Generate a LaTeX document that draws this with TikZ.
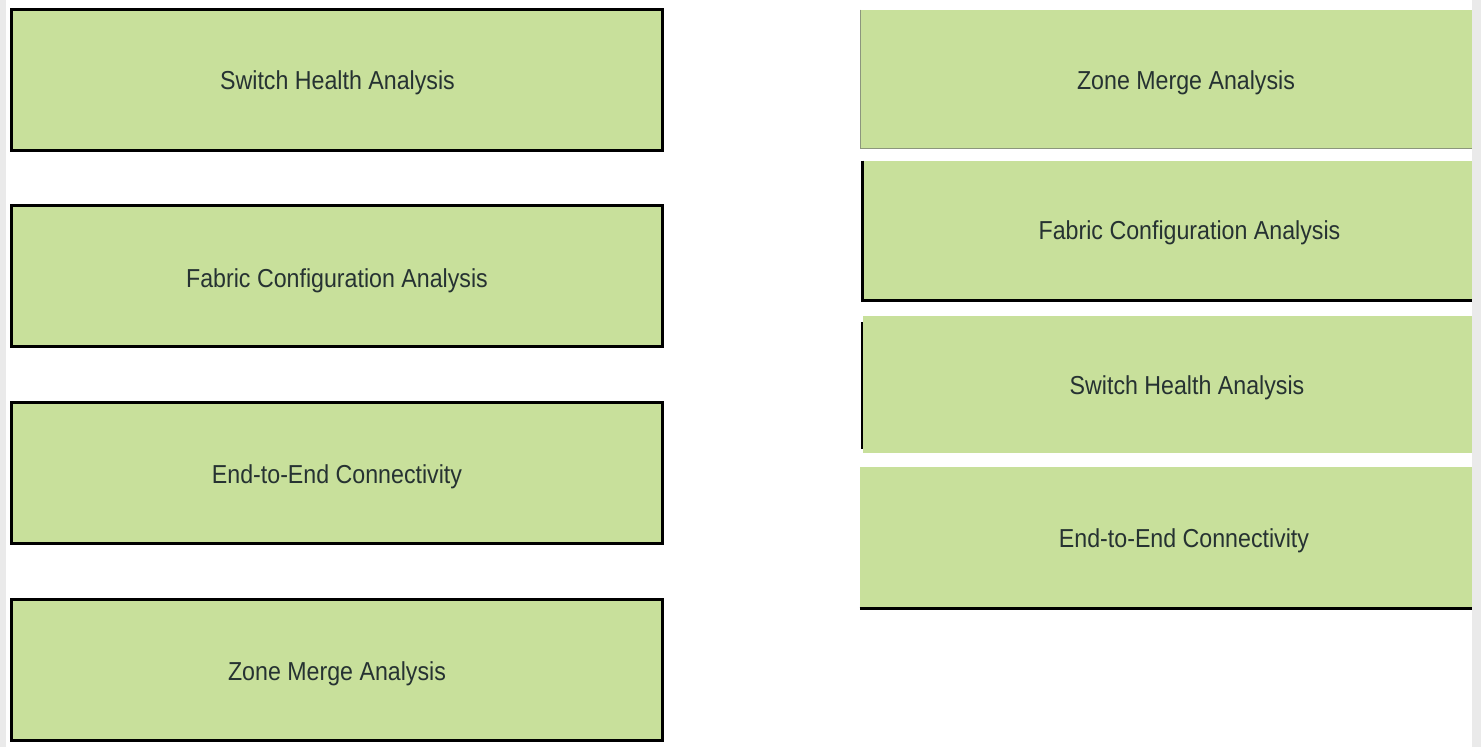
\documentclass[tikz,border=0pt]{standalone}
\usepackage{fontspec}
\setmainfont{Liberation Sans}
\definecolor{boxgreen}{RGB}{200,224,155}
\definecolor{boxtext}{RGB}{38,50,50}
\definecolor{stripgray}{RGB}{234,234,234}
\definecolor{linegray}{RGB}{140,150,125}

\begin{document}
\begin{tikzpicture}[x=0.75pt,y=-0.75pt,
  lbox/.style={draw=black,line width=2.25pt,fill=boxgreen,minimum width=488.25pt,
    minimum height=105.75pt,inner sep=0pt},
  rbox/.style={fill=boxgreen,minimum width=458.25pt,inner sep=0pt},
  lab/.style={text=boxtext,inner sep=0pt,text height=12.4pt,text depth=0pt,
    yscale=1.12,transform shape,font=\fontsize{17.4}{20}\selectfont}]
 \useasboundingbox (0,0) rectangle (1481,747);
 \fill[stripgray] (0,0) rectangle (6,747);
 \fill[stripgray] (1472,0) rectangle (1481,747);
 % left column
 \draw (337,80) node[lbox] (lswitch) {};
 \draw (337,276) node[lbox] (lfabric) {};
 \draw (337,473) node[lbox] (lend) {};
 \draw (337,670) node[lbox] (lzone) {};
 \draw (337.5,80) node[lab] (tlswitch) {Switch Health Analysis};
 \draw (337,278) node[lab] (tlfabric) {Fabric Configuration Analysis};
 \draw (337,474) node[lab] (tlend) {End-to-End Connectivity};
 \draw (337,671) node[lab] (tlzone) {Zone Merge Analysis};
 % right column
 \draw (1166.5,79) node[rbox,minimum height=103.5pt] (rzone) {};
 \draw (1167,230.5) node[rbox,minimum height=104.25pt,minimum width=456.75pt] (rfabric) {};
 \draw (1167,384.5) node[rbox,minimum height=102.75pt,minimum width=456.75pt] (rswitch) {};
 \draw (1166,537.5) node[rbox,minimum height=105.75pt,minimum width=459pt] (rend) {};
 \draw (1186,80) node[lab] (trzone) {Zone Merge Analysis};
 \draw (1189.5,230) node[lab] (trfabric) {Fabric Configuration Analysis};
 \draw (1187,385) node[lab] (trswitch) {Switch Health Analysis};
 \draw (1184,538) node[lab] (trend) {End-to-End Connectivity};
 \draw[linegray,line width=0.75pt] (rzone.north west) -- (rzone.south west) -- (rzone.south east);
 \draw[black,line width=2.25pt] (rfabric.north west) -- (rfabric.south west) -- (rfabric.south east);
 \draw[black,line width=1.5pt] ([yshift=-5pt]rswitch.north west) -- ([yshift=3.5pt]rswitch.south west);
 \draw[black,line width=2.25pt] (rend.south west) -- (rend.south east);
\end{tikzpicture}
\end{document}
